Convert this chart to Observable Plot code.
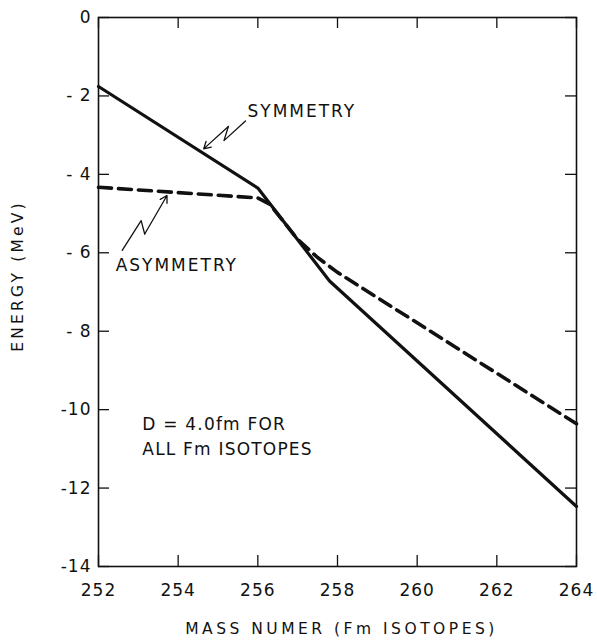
<!DOCTYPE html>
<html>
<head>
<meta charset="utf-8">
<script src="https://cdn.jsdelivr.net/npm/d3@7"></script>
<script src="https://cdn.jsdelivr.net/npm/@observablehq/plot@0.6"></script>
<style>
  html, body { margin: 0; padding: 0; background: #fff; }
</style>
</head>
<body>
<div id="chart"></div>
<script>
// Symmetry curve (solid)
const massSym = [252, 256, 257.8, 264];
const energySym = [-1.76, -4.35, -6.72, -12.47];
// Asymmetry curve (dashed)
const massAsym = [252, 256, 256.3, 257, 257.5, 258, 264];
const energyAsym = [-4.33, -4.6, -4.76, -5.66, -6.12, -6.5, -10.36];
// Ticks
const xTicks = [252, 254, 256, 258, 260, 262, 264];
const yTicks = [0, -2, -4, -6, -8, -10, -12, -14];
// Annotation zig-zag arrows (data coords)
const symArrowX = [255.69, 255.15, 255.26, 254.64];
const symArrowY = [-2.64, -3.14, -2.78, -3.35];
const asymArrowX = [252.595, 253.07, 253.16, 253.72];
const asymArrowY = [-5.94, -5.18, -5.52, -4.54];
// Labels
const labels = [
  {text: "SYMMETRY", x: 255.74, y: -2.41},
  {text: "ASYMMETRY", x: 252.43, y: -6.32}
];
const notes = [
  {text: "D = 4.0fm FOR", x: 253.1, y: -10.38},
  {text: "ALL Fm ISOTOPES", x: 253.1, y: -11.02}
];
const xTitle = "MASS NUMER (Fm ISOTOPES)";
const yTitle = "ENERGY (MeV)";

const sym = massSym.map((m, i) => ({mass: m, energy: energySym[i]}));
const asym = massAsym.map((m, i) => ({mass: m, energy: energyAsym[i]}));
const symZig = symArrowX.slice(0, 3).map((x, i) => ({x, y: symArrowY[i]}));
const asymZig = asymArrowX.slice(0, 3).map((x, i) => ({x, y: asymArrowY[i]}));
const heads = [
  {x1: symArrowX[2], y1: symArrowY[2], x2: symArrowX[3], y2: symArrowY[3]},
  {x1: asymArrowX[2], y1: asymArrowY[2], x2: asymArrowX[3], y2: asymArrowY[3]}
];

const fmtY = d => d === 0 ? "0" : (d > -10 ? "- " + (-d) : "-" + (-d));
const ink = "#111";

const W = 597, H = 641, mL = 98, mR = 21, mT = 17, mB = 75;
const plotW = W - mL - mR, plotH = H - mT - mB, tickLen = 11;

const chart = Plot.plot({
  width: W,
  height: H,
  marginLeft: mL,
  marginRight: mR,
  marginTop: mT,
  marginBottom: mB,
  x: {domain: [252, 264], label: null},
  y: {domain: [-14, 0], label: null},
  style: {fontFamily: "DejaVu Sans", background: "white", color: ink, fontSize: "17px"},
  marks: [
    Plot.frame({stroke: ink, strokeWidth: 1.6}),
    Plot.axisX(xTicks, {anchor: "bottom", tickSize: 0, tickPadding: 17, fontSize: 17, label: null, tickFormat: d => String(d)}),
    Plot.axisY(yTicks, {anchor: "left", tickSize: 0, tickPadding: 7, fontSize: 17, label: null, tickFormat: fmtY}),
    // inward ticks on all four sides
    Plot.tickX(xTicks, {x: d => d, insetTop: plotH - tickLen, stroke: ink, strokeWidth: 1.3}),
    Plot.tickX(xTicks, {x: d => d, insetBottom: plotH - tickLen, stroke: ink, strokeWidth: 1.3}),
    Plot.tickY(yTicks, {y: d => d, insetRight: plotW - tickLen, stroke: ink, strokeWidth: 1.3}),
    Plot.tickY(yTicks, {y: d => d, insetLeft: plotW - tickLen, stroke: ink, strokeWidth: 1.3}),
    Plot.line(sym, {x: "mass", y: "energy", stroke: ink, strokeWidth: 3.2}),
    Plot.line(asym, {x: "mass", y: "energy", stroke: ink, strokeWidth: 3.6, strokeDasharray: "13,7"}),
    Plot.line(symZig, {x: "x", y: "y", stroke: ink, strokeWidth: 1.3}),
    Plot.line(asymZig, {x: "x", y: "y", stroke: ink, strokeWidth: 1.3}),
    Plot.arrow(heads, {x1: "x1", y1: "y1", x2: "x2", y2: "y2", stroke: ink, strokeWidth: 1.3, headLength: 9}),
    Plot.text(labels, {x: "x", y: "y", text: "text", textAnchor: "start", fontSize: 17, fill: ink}),
    Plot.text(notes, {x: "x", y: "y", text: "text", textAnchor: "start", fontSize: 17, fill: ink}),
    Plot.text([xTitle], {text: d => d, frameAnchor: "bottom", textAnchor: "middle", dx: 4, dy: 67, fontSize: 15.5, fill: ink}),
    Plot.text([yTitle], {text: d => d, frameAnchor: "left", textAnchor: "middle", rotate: -90, dx: -80, dy: -16, fontSize: 15.5, fill: ink})
  ]
});
document.getElementById("chart").appendChild(chart);

// letter spacing to mimic the wide drafting lettering
const spacing = new Map([
  ["SYMMETRY", 2], ["ASYMMETRY", 2],
  ["D = 4.0fm FOR", 1.2], ["ALL Fm ISOTOPES", 1.2],
  [xTitle, 3.5], [yTitle, 3.2]
]);
d3.select(chart).selectAll("text").each(function() {
  const t = this.textContent;
  this.setAttribute("letter-spacing", spacing.has(t) ? spacing.get(t) : 1);
});
</script>
</body>
</html>
